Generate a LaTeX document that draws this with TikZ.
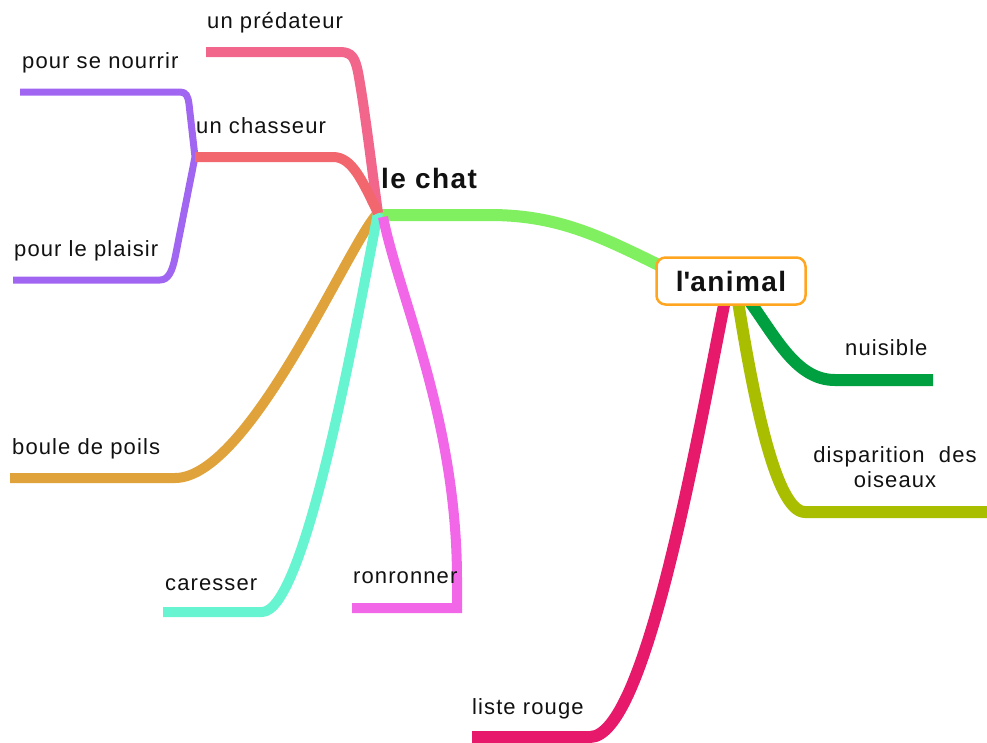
\documentclass[tikz,border=0pt]{standalone}
\usepackage{fontspec}
\setmainfont{Liberation Sans}[LetterSpace=5]
\definecolor{cgreen}{HTML}{80F060}
\definecolor{cpred}{HTML}{F3668C}
\definecolor{cchas}{HTML}{F2676E}
\definecolor{cpurp}{HTML}{A066F2}
\definecolor{corange}{HTML}{E0A23B}
\definecolor{cteal}{HTML}{66F5D0}
\definecolor{cmag}{HTML}{F266E8}
\definecolor{cdgreen}{HTML}{00A040}
\definecolor{colive}{HTML}{AABE00}
\definecolor{ccrim}{HTML}{E6196A}
\definecolor{cbox}{HTML}{FFA520}
\definecolor{ctext}{HTML}{111111}
\begin{document}
\begin{tikzpicture}[x=1pt,y=-1pt,line join=round,
  lbl/.style={anchor=base west,inner sep=0pt,text=ctext,font=\fontsize{22}{26}\selectfont},
  hubtxt/.style={anchor=base west,inner sep=0pt,text=ctext,font=\bfseries\fontsize{28}{32}\selectfont},
  br/.style={line width=10pt},
  subbr/.style={line width=7pt},
  abr/.style={line width=12pt},
  boxnode/.style={draw=cbox,line width=2.5pt,rounded corners=9pt,fill=white,
    minimum width=149pt,minimum height=47pt,inner sep=0pt,text=ctext,
    font=\bfseries\fontsize{28}{32}\selectfont}]
\useasboundingbox (0,0) rectangle (987,742);
% coordinates
\coordinate (hub) at (378,213);
\coordinate (hubg) at (380,215);
\coordinate (hubm) at (383,217);
\coordinate (pE) at (206,52);
\coordinate (cE) at (195,157);
\coordinate (nE) at (20,92);
\coordinate (plE) at (13,280);
\coordinate (bE) at (10,478);
\coordinate (caE) at (163,612);
\coordinate (rE) at (352,608);
\coordinate (aW) at (690,280);
\coordinate (aS1) at (726,295);
\coordinate (aS2) at (737,295);
\coordinate (aS3) at (745,295);
\coordinate (nuE) at (933,380);
\coordinate (dE) at (987,512);
\coordinate (lE) at (472,737);
% branches of l'animal
\draw[abr,cgreen] (hubg) -- (490,215) .. controls (570,215) and (615,245) .. (aW);
\draw[abr,ccrim] (aS1) .. controls (695,450) and (645,737) .. (590,737) -- (lE);
\draw[abr,colive] (aS2) .. controls (752,390) and (775,512) .. (805,512) -- (dE);
\draw[abr,cdgreen] (aS3) .. controls (775,335) and (795,380) .. (835,380) -- (nuE);
% branches of le chat
\draw[subbr,cpurp] (nE) -- (180,92) .. controls (186,92) and (188,96) .. (189,104) -- (cE)
  -- (175,258) .. controls (172,272) and (168,280) .. (160,280) -- (plE);
\draw[br,corange] (hub) .. controls (350,240) and (250,478) .. (175,478) -- (bE);
\draw[br,cteal] (hub) .. controls (355,330) and (305,612) .. (262,612) -- (caE);
\draw[br,cpred] (pE) -- (340,52) .. controls (352,52) and (355,58) .. (358,72)
  .. controls (365,110) and (372,170) .. (hub);
\draw[br,cchas] (cE) -- (333,157) .. controls (352,157) and (362,180) .. (hub);
\draw[br,cmag,line join=miter] (hubm) .. controls (400,300) and (457,420) .. (457,580)
  -- (457,608) -- (rE);
% central box
\node[boxnode] (animal) at (731,281) {l\textquotesingle animal};
% labels
\node[hubtxt] (chat) at (381,188) {le chat};
\node[lbl] (tpred) at (207,28) {un prédateur};
\node[lbl] (tnour) at (22,68) {pour se nourrir};
\node[lbl] (tchas) at (196,133) {un chasseur};
\node[lbl] (tplai) at (14,256) {pour le plaisir};
\node[lbl] (tboule) at (12,454) {boule de poils};
\node[lbl] (tcar) at (165,590) {caresser};
\node[lbl] (tron) at (353,583) {ronronner};
\node[lbl] (tliste) at (472,714) {liste rouge};
\node[lbl] (tnuis) at (845,355) {nuisible};
\node[anchor=base,inner sep=0pt,text=ctext,font=\fontsize{22}{25}\selectfont,align=center] (tdisp) at (895,487) {disparition\ \ des\\oiseaux};
\end{tikzpicture}
\end{document}
